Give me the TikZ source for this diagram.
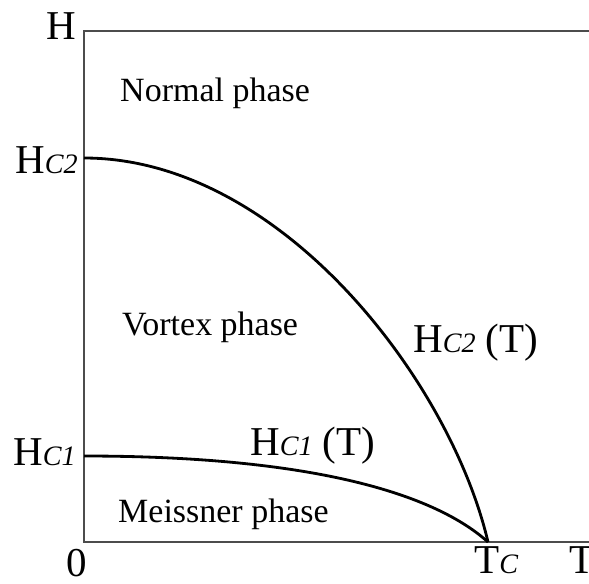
\documentclass[tikz,border=0pt]{standalone}
\usepackage{fontspec}
\setmainfont{Liberation Serif}
\usetikzlibrary{positioning}

\newcommand{\critlabel}[1]{H{\fontsize{24}{24}\selectfont\itshape #1}}

\begin{document}
\begin{tikzpicture}[x=0.03cm, y=-0.03cm,
        axis/.style={draw=black!70, line width=1.1pt},
        boundary/.style={draw=black, line width=2.4pt},
        phase/.style={font=\fontsize{29}{32}\selectfont, inner sep=0pt},
        axislabel/.style={font=\fontsize{35}{38}\selectfont, inner sep=0pt}
    ]
        \useasboundingbox (0,0) rectangle (589,583);

        % Axes frame
        \coordinate (origin) at (84,542);
        \coordinate (ytop) at (84,31);
        \coordinate (topend) at (589,31);
        \coordinate (xend) at (589,542);
        \coordinate (hc2) at (84,158);
        \coordinate (hc1) at (84,456);
        \coordinate (tc) at (488,542);

        \draw[axis] (topend) -- (ytop) -- (origin) -- (xend);

        % Axis labels
        \node[axislabel, anchor=base] (hlabel) at (61,39) {H};
        \node[axislabel, anchor=base] (zero) at (77,576) {0};
        \node[axislabel, anchor=base west] (tlabel) at (569,573) {T};
        \node[axislabel, anchor=base west] (tclabel) at (474,573) {T{\fontsize{24}{24}\selectfont\itshape C}};
        \node[axislabel, anchor=base east] (hc2label) at (78,173) {\critlabel{C2}};
        \node[axislabel, anchor=base east] (hc1label) at (76,465) {\critlabel{C1}};

        % Phase boundaries
        \draw[boundary] (hc2) .. controls (280,158) and (450,380) .. (tc);
        \draw[boundary] (hc1) .. controls (300,456) and (430,490) .. (tc);

        \node[axislabel, anchor=base west] (hc2curve) at (413,352) {\critlabel{C2} (T)};
        \node[axislabel, anchor=base west] (hc1curve) at (250,455) {\critlabel{C1} (T)};

        % Phases
        \node[phase, anchor=base west] (normal) at (120,101) {Normal phase};
        \node[phase, anchor=base west] (vortex) at (122,335) {Vortex phase};
        \node[phase, anchor=base west] (meissner) at (118,522) {Meissner phase};

    \end{tikzpicture}
\end{document}
